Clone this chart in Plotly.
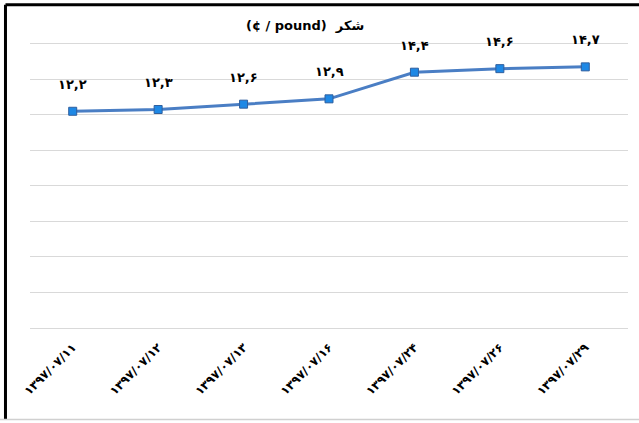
import plotly.graph_objects as go

dates = ["۱۳۹۷/۰۷/۱۱", "۱۳۹۷/۰۷/۱۲", "۱۳۹۷/۰۷/۱۳", "۱۳۹۷/۰۷/۱۶",
         "۱۳۹۷/۰۷/۲۴", "۱۳۹۷/۰۷/۲۶", "۱۳۹۷/۰۷/۲۹"]
prices = [12.2, 12.3, 12.6, 12.9, 14.4, 14.6, 14.7]
labels = ["۱۲,۲", "۱۲,۳", "۱۲,۶", "۱۲,۹", "۱۴,۴", "۱۴,۶", "۱۴,۷"]
title_text = "(¢ / pound)  شکر"

FONT = "DejaVu Sans"

fig = go.Figure()
fig.add_trace(go.Scatter(
    x=dates, y=prices, mode="lines+markers",
    line=dict(color="#4A7EC4", width=3),
    marker=dict(symbol="square", size=8, color="#1E88E5",
                line=dict(color="#2F5F9E", width=1)),
    hoverinfo="skip", showlegend=False,
))

for d, p, t in zip(dates, prices, labels):
    fig.add_annotation(x=d, y=p, text=f"<b>{t}</b>", showarrow=False,
                       yshift=27, font=dict(family=FONT, size=13, color="#000"))

fig.add_annotation(xref="paper", yref="paper", x=0.46, y=1.0, yshift=17,
                   yanchor="middle",
                   text=f"<b>{title_text}</b>", showarrow=False,
                   font=dict(family=FONT, size=13, color="#000"))

# frame
fig.add_shape(type="line", xref="paper", yref="paper", x0=-0.041, x1=1.03,
              y0=1.13, y1=1.13, line=dict(color="#000", width=3))
fig.add_shape(type="line", xref="paper", yref="paper", x0=-0.041, x1=-0.041,
              y0=1.13, y1=-0.32, line=dict(color="#000", width=3))
fig.add_shape(type="line", xref="paper", yref="paper", x0=-0.06, x1=1.03,
              y0=-0.32, y1=-0.32, line=dict(color="#d0d0d0", width=1.5))

fig.update_xaxes(type="category", range=[-0.5, 6.5], tickangle=-45,
                 showgrid=False, showline=False, ticks="", automargin=False,
                 ticklabelstandoff=9,
                 tickfont=dict(family=FONT, size=12, color="#000", weight="bold"))
fig.update_yaxes(range=[0, 16.1], dtick=2, showticklabels=False, automargin=False,
                 showgrid=True, gridcolor="#d9d9d9", gridwidth=1,
                 zeroline=True, zerolinecolor="#d9d9d9", zerolinewidth=1,
                 showline=False, ticks="")

fig.update_layout(
    width=639, height=423,
    margin=dict(l=30, r=11, t=42, b=95),
    paper_bgcolor="white", plot_bgcolor="white",
    font=dict(family=FONT),
)

fig.write_html("out.html", config={"displayModeBar": False},
               post_script="document.body.style.margin='0';document.body.style.padding='0';")
